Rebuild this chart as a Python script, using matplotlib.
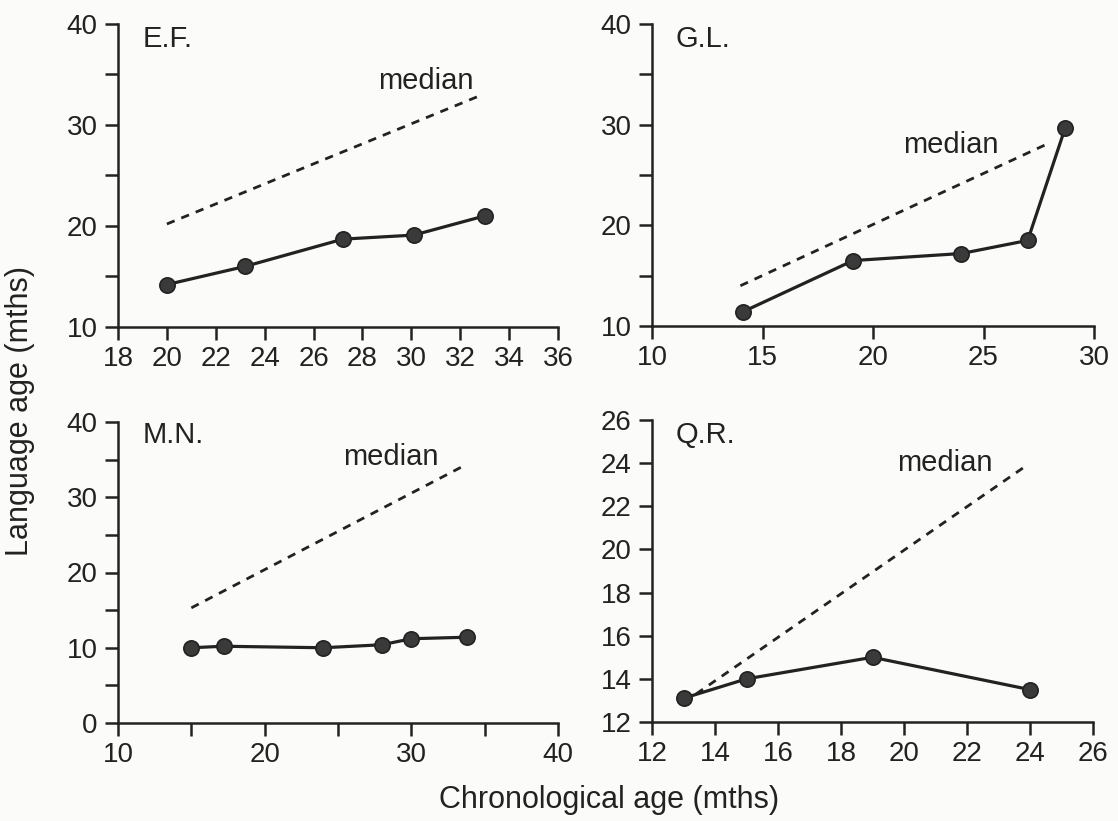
import numpy as np
import matplotlib
matplotlib.use('Agg')
import matplotlib.pyplot as plt

plt.rcParams['font.family'] = ['Liberation Sans', 'DejaVu Sans']

# chronological age (x) vs language age (y) for each child
ef_x = [20, 23.2, 27.2, 30.1, 33]
ef_y = [14.2, 16.0, 18.7, 19.1, 21.0]
ef_med_x = [20, 32.7]
ef_med_y = [20.2, 32.8]

gl_x = [14.1, 19.1, 24.0, 27.0, 28.7]
gl_y = [11.4, 16.5, 17.2, 18.5, 29.7]
gl_med_x = [14, 28]
gl_med_y = [14, 28.2]

mn_x = [15, 17.2, 24, 28, 30, 33.8]
mn_y = [10, 10.2, 10, 10.4, 11.2, 11.4]
mn_med_x = [15, 33.6]
mn_med_y = [15.3, 34.2]

qr_x = [13, 15, 19, 24]
qr_y = [13.1, 14.0, 15.0, 13.5]
qr_med_x = [13.4, 23.8]
qr_med_y = [13.3, 23.8]

panels = [
    # name, x, y, med x, med y, xlim, ylim, xtick step, xlabel step, ytick step, ylabel step, name pos, median pos
    ('E.F.', ef_x, ef_y, ef_med_x, ef_med_y, (18, 36), (10, 40), 2, 2, 5, 10, (19.0, 38.5), (30.6, 34.4)),
    ('G.L.', gl_x, gl_y, gl_med_x, gl_med_y, (10, 30), (10, 40), 5, 5, 5, 10, (11.05, 38.5), (23.5, 28.0)),
    ('M.N.', mn_x, mn_y, mn_med_x, mn_med_y, (10, 40), (0, 40), 5, 10, 5, 10, (11.7, 38.3), (28.6, 35.4)),
    ('Q.R.', qr_x, qr_y, qr_med_x, qr_med_y, (12, 26), (12, 26), 2, 2, 2, 2, (12.75, 25.3), (21.3, 24.0)),
]

# axes rectangles in figure fractions (left, bottom, width, height)
rects = [
    (118 / 1118, 1 - 327 / 821, 440 / 1118, 303 / 821),
    (652 / 1118, 1 - 326 / 821, 442 / 1118, 302 / 821),
    (118 / 1118, 1 - 723 / 821, 440 / 1118, 301 / 821),
    (652 / 1118, 1 - 722 / 821, 441 / 1118, 302 / 821),
]

fig = plt.figure(figsize=(11.18, 8.21), dpi=100)
fig.patch.set_facecolor('#fbfbfa')

ink = '#222222'

for rect, p in zip(rects, panels):
    name, x, y, mx, my, xlim, ylim, xstep, xlstep, ystep, ylstep, npos, mpos = p
    ax = fig.add_axes(rect)
    ax.set_facecolor('none')
    ax.plot(mx, my, color=ink, lw=2, linestyle=(0, (3, 2.6)))
    ax.plot(x, y, color=ink, lw=2.3, marker='o', ms=11, mfc='#3a3a3a', mec=ink, mew=1.2,
            clip_on=False, zorder=3)
    ax.set_xlim(*xlim)
    ax.set_ylim(*ylim)

    xt = np.arange(xlim[0], xlim[1] + 0.01, xstep)
    ax.set_xticks(xt)
    ax.set_xticklabels([f'{v:g}' if (v - xlim[0]) % xlstep == 0 else '' for v in xt])
    yt = np.arange(ylim[0], ylim[1] + 0.01, ystep)
    ax.set_yticks(yt)
    ax.set_yticklabels([f'{v:g}' if (v - ylim[0]) % ylstep == 0 else '' for v in yt])

    for s in ['top', 'right']:
        ax.spines[s].set_visible(False)
    for s in ['left', 'bottom']:
        ax.spines[s].set_linewidth(1.8)
        ax.spines[s].set_color(ink)
    ax.tick_params(direction='out', length=9.5, width=1.8, color=ink,
                   labelsize=20, labelcolor=ink)
    ax.tick_params(axis='y', pad=5)
    ax.tick_params(axis='x', pad=4)

    ax.text(npos[0], npos[1], name, fontsize=21, color=ink, ha='left', va='center')
    ax.text(mpos[0], mpos[1], 'median', fontsize=21, color=ink, ha='center', va='center')

fig.text(0.018, 0.5, 'Language age (mths)', rotation=90, fontsize=22, color=ink,
         ha='center', va='center')
fig.text(0.545, 0.026, 'Chronological age (mths)', fontsize=22, color=ink,
         ha='center', va='center')

fig.savefig('out.png', dpi=100, facecolor=fig.get_facecolor())
